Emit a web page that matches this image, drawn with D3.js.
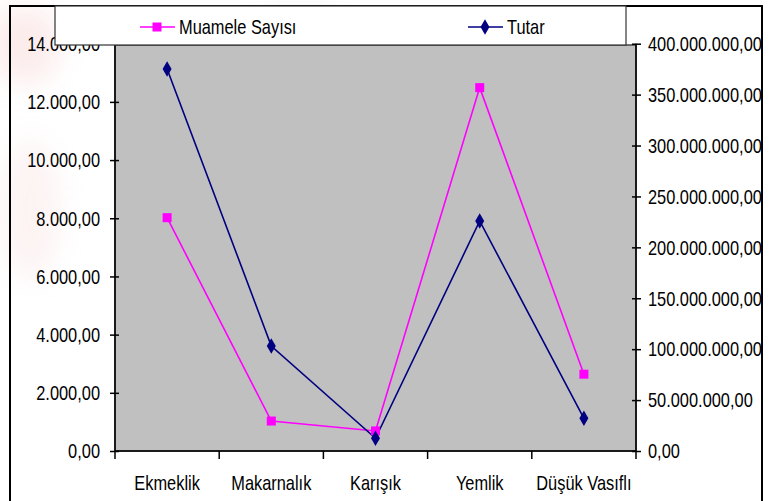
<!DOCTYPE html>
<html><head><meta charset="utf-8">
<script src="https://cdn.jsdelivr.net/npm/d3@7/dist/d3.min.js"></script>
<style>
html,body{margin:0;padding:0;background:#fff;}
svg text{font-family:"Liberation Sans",Arial,sans-serif;fill:#000;}
</style></head>
<body><svg id="c" width="779" height="501"></svg>
<script>
const categories = ["Ekmeklik","Makarnalık","Karışık","Yemlik","Düşük Vasıflı"];
const muameleSayisi = [8020, 1030, 690, 12490, 2640];
const tutar = [375200000, 103100000, 12500000, 225900000, 32100000];
const leftTicks = [0,2000,4000,6000,8000,10000,12000,14000];
const rightTicks = [0,50000000,100000000,150000000,200000000,250000000,300000000,350000000,400000000];
const seriesNames = ["Muamele Sayısı","Tutar"];

const SX = 0.82; // horizontal condensing of text
const svg = d3.select("#c");
const fmt = v => {
  const s = Math.round(v).toString().replace(/\B(?=(\d{3})+(?!\d))/g, ".");
  return s + ",00";
};
const M = {l:115, r:636, t:43.7, b:451};
const x = d3.scaleBand().domain(categories).range([M.l, M.r]);
const yL = d3.scaleLinear().domain([0,14000]).range([M.b, M.t]);
const yR = d3.scaleLinear().domain([0,400000000]).range([M.b, M.t]);

// faint background watermark
const defs = svg.append("defs");
defs.append("filter").attr("id","bl").append("feGaussianBlur").attr("stdDeviation",14);
const wm = svg.append("g").attr("filter","url(#bl)").attr("opacity",0.2);
wm.append("ellipse").attr("cx",25).attr("cy",45).attr("rx",35).attr("ry",40).attr("fill","#f0a0a0");
wm.append("ellipse").attr("cx",30).attr("cy",210).attr("rx",30).attr("ry",70).attr("fill","#f4c4c4");
wm.append("ellipse").attr("cx",300).attr("cy",2).attr("rx",40).attr("ry",10).attr("fill","#d8d8d8");

// outer frame
svg.append("rect").attr("x",10).attr("y",6).attr("width",752).attr("height",520)
  .attr("fill","none").attr("stroke","#000").attr("stroke-width",2);

// plot area
svg.append("rect").attr("x",M.l).attr("y",45).attr("width",M.r-M.l).attr("height",M.b-45)
  .attr("fill","#C0C0C0").attr("stroke","#444").attr("stroke-width",1.5);

// left axis
const gL = svg.append("g").attr("transform",`translate(${M.l},0)`)
  .call(d3.axisLeft(yL).tickValues(leftTicks).tickFormat(fmt).tickSize(5).tickPadding(10));
gL.selectAll(".tick line").attr("x1",4).attr("x2",-5).attr("stroke","#000").attr("stroke-width",1.5);
gL.select(".domain").attr("stroke","#000").attr("stroke-width",1.5).attr("d",`M0,${M.b}V${M.t}`);
gL.selectAll("text").attr("font-size",20).attr("dy","0.34em").attr("x",-15/SX).attr("transform",`scale(${SX},1)`);

// right axis
const gR = svg.append("g").attr("transform",`translate(${M.r},0)`)
  .call(d3.axisRight(yR).tickValues(rightTicks).tickFormat(fmt).tickSize(5).tickPadding(10));
gR.selectAll(".tick line").attr("x1",-4).attr("x2",5).attr("stroke","#000").attr("stroke-width",1.5);
gR.select(".domain").attr("stroke","#000").attr("stroke-width",1.5).attr("d",`M0,${M.b}V${M.t}`);
gR.selectAll("text").attr("font-size",20).attr("dy","0.34em").attr("x",12/SX).attr("transform",`scale(${SX},1)`);

// bottom axis
const gB = svg.append("g").attr("transform",`translate(0,${M.b})`)
  .call(d3.axisBottom(x).tickSize(0).tickPadding(0));
gB.select(".domain").attr("stroke","#000").attr("stroke-width",1.5).attr("d",`M${M.l},0H${M.r}`);
gB.selectAll(".tick text").attr("font-size",20).attr("y",39).attr("dy",0).attr("transform",`scale(${SX},1)`);
const bnd = categories.map(c=>x(c)).concat([M.r]);
gB.selectAll(".sep").data(bnd).enter().append("line").attr("class","sep")
  .attr("x1",d=>d).attr("x2",d=>d).attr("y1",0).attr("y2",8).attr("stroke","#000").attr("stroke-width",1.5);

// lines
const cx = c => x(c) + x.bandwidth()/2;
const lineL = d3.line().x((d,i)=>cx(categories[i])).y(d=>yL(d));
const lineR = d3.line().x((d,i)=>cx(categories[i])).y(d=>yR(d));
svg.append("path").attr("d",lineL(muameleSayisi)).attr("fill","none").attr("stroke","#FF00FF").attr("stroke-width",1.6);
svg.append("path").attr("d",lineR(tutar)).attr("fill","none").attr("stroke","#000080").attr("stroke-width",1.6);
const sq = d3.symbol().type(d3.symbolSquare).size(81);
const dm = d3.symbol().type(d3.symbolDiamond).size(70);
svg.selectAll(".mL").data(muameleSayisi).enter().append("path")
  .attr("d",sq).attr("transform",(d,i)=>`translate(${cx(categories[i])},${yL(d)})`).attr("fill","#FF00FF");
svg.selectAll(".mR").data(tutar).enter().append("path")
  .attr("d",dm).attr("transform",(d,i)=>`translate(${cx(categories[i])},${yR(d)})`).attr("fill","#000080");

// legend
svg.append("rect").attr("x",55).attr("y",6).attr("width",571).attr("height",39)
  .attr("fill","#fff").attr("stroke","#333").attr("stroke-width",1.2);
const leg = [{x:140, name:seriesNames[0], color:"#FF00FF", sym:sq},{x:468, name:seriesNames[1], color:"#000080", sym:dm}];
leg.forEach(l=>{
  svg.append("line").attr("x1",l.x).attr("x2",l.x+35).attr("y1",27).attr("y2",27).attr("stroke",l.color).attr("stroke-width",1.6);
  svg.append("path").attr("d",l.sym).attr("transform",`translate(${l.x+17},27)`).attr("fill",l.color);
  svg.append("text").attr("x",(l.x+39)/SX).attr("y",34).attr("font-size",20).attr("transform",`scale(${SX},1)`).text(l.name);
});
</script></body></html>
